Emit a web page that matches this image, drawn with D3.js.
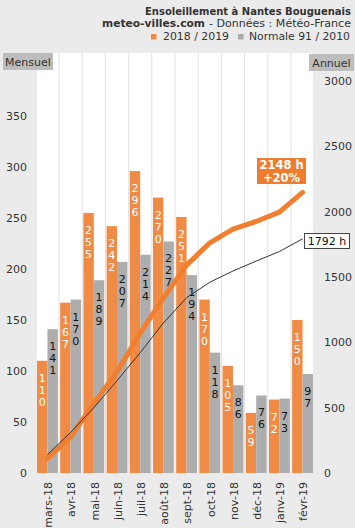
<!DOCTYPE html>
<html><head><meta charset="utf-8">
<script src="https://cdn.jsdelivr.net/npm/d3@7"></script>
<style>
html,body{margin:0;padding:0;background:#ebebeb;}
svg{display:block;font-family:"DejaVu Sans",Verdana,sans-serif;}
</style></head>
<body><svg id="c" width="355" height="528"></svg>
<script>
const months = ["mars-18","avr-18","mai-18","juin-18","juil-18","août-18","sept-18","oct-18","nov-18","déc-18","janv-19","févr-19"];
const sun2018 = [110,167,255,242,296,270,251,170,105,59,72,150];
const normal = [141,170,189,207,214,227,194,118,86,76,73,97];
const cum2018 = [110,277,532,774,1070,1340,1591,1761,1866,1925,1997,2148];
const cumNormal = [141,311,500,707,921,1148,1342,1460,1546,1622,1695,1792];
const leftTicks = [0,50,100,150,200,250,300,350];
const rightTicks = [0,500,1000,1500,2000,2500,3000];
const seriesNames = ["2018 / 2019","Normale 91 / 2010"];

const ORANGE = "#f08b45", LINE_OR = "#f07f30", GREY = "#adadad", TXT = "#333";
const svg = d3.select("#c");
const L = 37, R = 313, T = 53, B = 473;

svg.append("rect").attr("width",355).attr("height",528).attr("fill","#ebebeb");
svg.append("rect").attr("x",L).attr("y",T).attr("width",R-L).attr("height",B-T).attr("fill","#fff");

const x = d3.scaleBand().domain(months).range([L,R]).paddingInner(0.1).paddingOuter(0).align(0);
const xs = d3.scaleBand().domain(["a","b"]).range([0,x.bandwidth()]);
const yL = d3.scaleLinear().domain([0,350]).range([B,116]);
const yR = d3.scaleLinear().domain([0,3000]).range([B,81]);
const gap = x.step()-x.bandwidth();

// vertical gridlines
svg.append("g").selectAll("line").data(months.slice(1)).join("line")
  .attr("x1",d=>x(d)-gap/2).attr("x2",d=>x(d)-gap/2).attr("y1",T).attr("y2",B)
  .attr("stroke","#e2e2e2").attr("stroke-width",1);

// bars
const g = svg.append("g");
g.selectAll(".o").data(months).join("rect").attr("class","o")
  .attr("x",(d)=>x(d)+xs("a")).attr("width",xs.bandwidth())
  .attr("y",(d,i)=>yL(sun2018[i])).attr("height",(d,i)=>B-yL(sun2018[i])).attr("fill",ORANGE);
g.selectAll(".g").data(months).join("rect").attr("class","g")
  .attr("x",(d)=>x(d)+xs("b")).attr("width",xs.bandwidth())
  .attr("y",(d,i)=>yL(normal[i])).attr("height",(d,i)=>B-yL(normal[i])).attr("fill",GREY);

// vertical digit labels
function digits(vals, sub, color){
  months.forEach((m,i)=>{
    const s = String(vals[i]);
    const cx = x(m)+xs(sub)+xs.bandwidth()/2;
    const top = yL(vals[i]);
    s.split("").forEach((ch,k)=>{
      svg.append("text").attr("x",cx).attr("y",top+21+k*12)
        .attr("text-anchor","middle").attr("font-size",11).attr("fill",color).text(ch);
    });
  });
}
digits(sun2018,"a","#fff");
digits(normal,"b","#111");

// cumulative lines
const cx = (d,i)=>x(months[i])+x.bandwidth()/2;
svg.append("path").datum(cum2018)
  .attr("d",d3.line().x(cx).y(d=>yR(d)))
  .attr("fill","none").attr("stroke",LINE_OR).attr("stroke-width",5).attr("stroke-linejoin","round").attr("stroke-linecap","round");
svg.append("path").datum(cumNormal)
  .attr("d",d3.line().x(cx).y(d=>yR(d)))
  .attr("fill","none").attr("stroke","#333").attr("stroke-width",1);

// left axis labels
svg.append("g").selectAll("text").data(leftTicks).join("text")
  .attr("x",27).attr("y",d=>yL(d)).attr("dy","0.35em").attr("text-anchor","end")
  .attr("font-size",11).attr("fill",TXT).text(d=>d);
// right axis labels
svg.append("g").selectAll("text").data(rightTicks).join("text")
  .attr("x",324).attr("y",d=>yR(d)).attr("dy","0.35em").attr("text-anchor","start")
  .attr("font-size",11).attr("fill",TXT).text(d=>d);

// x labels
svg.append("g").selectAll("text").data(months).join("text")
  .attr("transform",d=>`translate(${x(d)+x.bandwidth()/2+1},482) rotate(-90)`)
  .attr("dy","0.35em").attr("text-anchor","end").attr("font-size",11).attr("fill",TXT).text(d=>d);

// axis boxes
svg.append("rect").attr("x",3).attr("y",53).attr("width",50).attr("height",17).attr("fill","#bdbdbd");
svg.append("text").attr("x",28).attr("y",65.5).attr("text-anchor","middle").attr("font-size",11).attr("fill","#333").text("Mensuel");
svg.append("rect").attr("x",309).attr("y",54).attr("width",45).attr("height",17).attr("fill","#bdbdbd");
svg.append("text").attr("x",331.5).attr("y",66.5).attr("text-anchor","middle").attr("font-size",11).attr("fill","#333").text("Annuel");

// end annotations
svg.append("rect").attr("x",257).attr("y",158).attr("width",49).attr("height",26).attr("fill","#ef7d2f");
svg.append("text").attr("x",281.5).attr("y",169).attr("text-anchor","middle").attr("font-size",11.5).attr("font-weight","bold").attr("fill","#fff").text(cum2018[11]+" h");
svg.append("text").attr("x",281.5).attr("y",182).attr("text-anchor","middle").attr("font-size",11.5).attr("font-weight","bold").attr("fill","#fff")
  .text("+"+Math.round((cum2018[11]/cumNormal[11]-1)*100)+"%");
svg.append("rect").attr("x",304.5).attr("y",233.5).attr("width",45).attr("height",15).attr("fill","#fff").attr("stroke","#444").attr("stroke-width",1);
svg.append("text").attr("x",327).attr("y",245).attr("text-anchor","middle").attr("font-size",11).attr("fill","#111").text(cumNormal[11]+" h");

// title
svg.append("text").attr("x",351).attr("y",14.5).attr("text-anchor","end")
  .attr("font-size",10).attr("font-weight","bold").attr("fill","#333").text("Ensoleillement à Nantes Bouguenais");
svg.append("text").attr("x",205).attr("y",27).attr("text-anchor","end").attr("textLength",103).attr("lengthAdjust","spacingAndGlyphs")
  .attr("font-size",11).attr("font-weight","bold").attr("fill","#333").text("meteo-villes.com");
svg.append("text").attr("x",351).attr("y",27).attr("text-anchor","end").attr("textLength",142).attr("lengthAdjust","spacingAndGlyphs")
  .attr("font-size",11).attr("fill","#333").text("- Données : Météo-France");
// legend
svg.append("rect").attr("x",151).attr("y",34).attr("width",5.5).attr("height",5.5).attr("fill",ORANGE);
svg.append("text").attr("x",229).attr("y",40).attr("text-anchor","end").attr("textLength",66).attr("lengthAdjust","spacingAndGlyphs")
  .attr("font-size",11).attr("fill","#333").text(seriesNames[0]);
svg.append("rect").attr("x",238).attr("y",34).attr("width",5.5).attr("height",5.5).attr("fill",GREY);
svg.append("text").attr("x",350).attr("y",40).attr("text-anchor","end").attr("textLength",101).attr("lengthAdjust","spacingAndGlyphs")
  .attr("font-size",11).attr("fill","#333").text(seriesNames[1]);
</script></body></html>
